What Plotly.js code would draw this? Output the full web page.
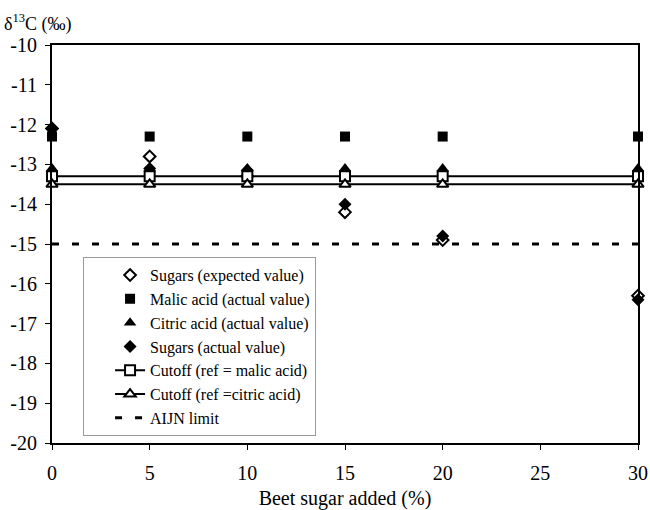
<!DOCTYPE html>
<html>
<head>
<meta charset="utf-8">
<script src="https://cdn.plot.ly/plotly-3.0.1.min.js"></script>
<style>html,body{margin:0;padding:0;background:#fff;}#chart{width:650px;height:510px;}</style>
</head>
<body>
<div id="chart"></div>
<script>
// Data
const beetSugar = [0, 5, 10, 15, 20, 30];
const sugarsExpected = [-12.1, -12.8, -13.3, -14.2, -14.9, -16.3];
const malicActual = [-12.3, -12.3, -12.3, -12.3, -12.3, -12.3];
const citricActual = [-13.1, -13.1, -13.1, -13.1, -13.1, -13.1];
const sugarsActual = [-12.1, -13.1, -13.15, -14.0, -14.8, -16.4];
const cutoffMalic = [-13.3, -13.3, -13.3, -13.3, -13.3, -13.3];
const cutoffCitric = [-13.5, -13.5, -13.5, -13.5, -13.5, -13.5];
const aijnX = [0, 30];
const aijnLimit = [-15, -15];
const xTicks = [0, 5, 10, 15, 20, 25, 30];
const xTickText = ['0', '5', '10', '15', '20', '25', '30'];
const yTicks = [-10, -11, -12, -13, -14, -15, -16, -17, -18, -19, -20];
const yTickText = ['-10', '-11', '-12', '-13', '-14', '-15', '-16', '-17', '-18', '-19', '-20'];

const serif = 'Liberation Serif, Times New Roman, serif';

const traces = [
  {x: beetSugar, y: sugarsExpected, name: 'Sugars (expected value)', mode: 'markers',
   marker: {symbol: 'diamond', size: 9, color: '#fff', line: {width: 2, color: '#000'}}},
  {x: beetSugar, y: malicActual, name: 'Malic acid (actual value)', mode: 'markers',
   marker: {symbol: 'square', size: 10, color: '#000'}},
  {x: beetSugar, y: citricActual, name: 'Citric acid (actual value)', mode: 'markers',
   marker: {symbol: 'triangle-up', size: 11, color: '#000'}},
  {x: beetSugar, y: sugarsActual, name: 'Sugars (actual value)', mode: 'markers',
   marker: {symbol: 'diamond', size: 10, color: '#000'}},
  {x: beetSugar, y: cutoffMalic, name: 'Cutoff (ref = malic acid)', mode: 'lines+markers',
   line: {color: '#000', width: 2},
   marker: {symbol: 'square', size: 10, color: '#fff', line: {width: 2, color: '#000'}}},
  {x: beetSugar, y: cutoffCitric, name: 'Cutoff (ref =citric acid)', mode: 'lines+markers',
   line: {color: '#000', width: 2},
   marker: {symbol: 'triangle-up', size: 10, color: '#fff', line: {width: 2, color: '#000'}}},
  {x: aijnX, y: aijnLimit, name: 'AIJN limit', mode: 'lines',
   line: {color: '#000', width: 3, dash: '7px,13px'}}
];
traces.forEach(t => t.cliponaxis = false);

const layout = {
  width: 650, height: 510,
  margin: {l: 52, r: 12, t: 45, b: 67},
  paper_bgcolor: '#fff', plot_bgcolor: '#fff',
  font: {family: serif, size: 18, color: '#000'},
  showlegend: true,
  legend: {
    x: 0.053, y: 0.467, xanchor: 'left', yanchor: 'top',
    bgcolor: '#fff', bordercolor: '#999', borderwidth: 1,
    font: {family: serif, size: 16, color: '#000'},
    traceorder: 'normal', tracegroupgap: 0, indentation: 26
  },
  xaxis: {
    range: [0, 30], tickmode: 'array', tickvals: xTicks, ticktext: xTickText,
    showgrid: false, zeroline: false, showline: true, linecolor: '#000', linewidth: 2,
    mirror: true, ticks: 'outside', ticklen: 5, tickwidth: 1, tickcolor: '#000',
    ticklabeloverflow: 'allow', ticklabelstandoff: 6,
    tickfont: {family: serif, size: 20},
    title: {text: 'Beet sugar added (%)', font: {family: serif, size: 20}, standoff: 16}
  },
  yaxis: {
    range: [-20, -10], tickmode: 'array', tickvals: yTicks, ticktext: yTickText,
    showgrid: false, zeroline: false, showline: true, linecolor: '#000', linewidth: 2,
    mirror: true, ticks: 'outside', ticklen: 5, tickwidth: 1, tickcolor: '#000',
    ticklabelstandoff: 4,
    tickfont: {family: serif, size: 20}
  },
  annotations: [{
    text: 'δ<sup>13</sup>C (‰)', xref: 'paper', yref: 'paper',
    x: -0.085, y: 1.02, xanchor: 'left', yanchor: 'bottom', showarrow: false,
    font: {family: serif, size: 18, color: '#000'}
  }]
};

Plotly.newPlot('chart', traces, layout, {displayModeBar: false, staticPlot: true});
</script>
</body>
</html>
